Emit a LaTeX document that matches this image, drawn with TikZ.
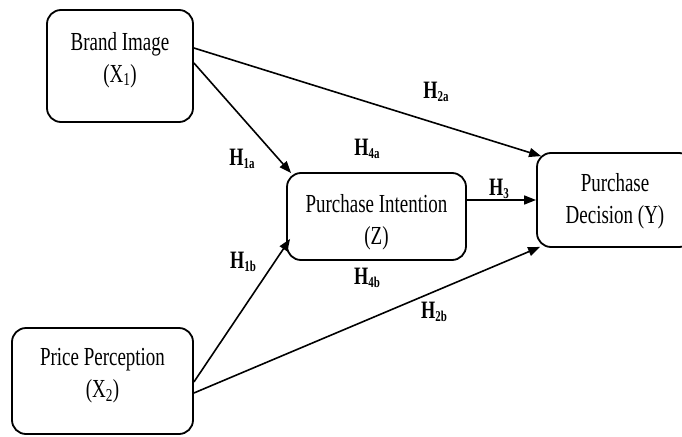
\documentclass[tikz,border=0pt]{standalone}
\usepackage{fontspec}
\setmainfont[FakeStretch=0.73]{Liberation Serif}
\usetikzlibrary{arrows.meta,calc}
\newcommand\hyp[1]{\textbf{H}{\fontsize{15}{15}\selectfont\textbf{\raisebox{-3pt}{#1}}}}
\tikzset{
  box/.style={draw, line width=1.8pt, rounded corners=14pt, inner sep=0pt},
  txt/.style={align=center, font=\fontsize{26}{32}\selectfont, inner sep=0pt},
  hlab/.style={anchor=base, font=\fontsize{25}{25}\selectfont, inner sep=0pt},
  arr/.style={line width=1.6pt, -{Triangle[length=12pt,width=9pt]}}
}
\begin{document}
\begin{tikzpicture}[x=1pt,y=-1pt]
\useasboundingbox (0,0) rectangle (682,436);
\clip (0,0) rectangle (682,436);
% boxes
\node[box, minimum width=146pt, minimum height=112pt] (bi) at (120,66) {};
\node[box, minimum width=181pt, minimum height=106pt] (pp) at (102.5,381) {};
\node[box, minimum width=179pt, minimum height=87pt] (pi) at (376.5,216.5) {};
\node[box, minimum width=156pt, minimum height=94pt] (pd) at (615,200) {};
% texts
\node[txt] (bit) at (120,60) {Brand Image\\(X\textsubscript{1})};
\node[txt] (ppt) at (102.5,376) {Price Perception\\(X\textsubscript{2})};
\node[txt] (pit) at (376.5,222) {Purchase Intention\\(Z)};
\node[txt] (pdt) at (615,201) {Purchase\\Decision (Y)};
% arrows
\draw[arr] ([yshift=18pt]bi.east) -- ([xshift=5pt,yshift=-4pt]pd.north west);
\draw[arr] ([yshift=3pt]bi.east) -- ([xshift=5pt,yshift=-1pt]pi.north west);
\draw[arr] (pi.east |- pd.west) -- (pd.west);
\draw[arr] ([yshift=-1pt]pp.east) -- ([xshift=4pt,yshift=22pt]pi.south west);
\draw[arr] ([yshift=-12pt]pp.east) -- ([xshift=4pt,yshift=1pt]pd.south west);
% labels
\node[hlab] (h1a) at (242,165) {\hyp{1a}};
\node[hlab] (h2a) at (436,98) {\hyp{2a}};
\node[hlab] (h4a) at (367,155) {\hyp{4a}};
\node[hlab] (h3) at (499,195) {\hyp{3}};
\node[hlab] (h4b) at (367,284) {\hyp{4b}};
\node[hlab] (h1b) at (243,268) {\hyp{1b}};
\node[hlab] (h2b) at (434,318) {\hyp{2b}};
\end{tikzpicture}
\end{document}
